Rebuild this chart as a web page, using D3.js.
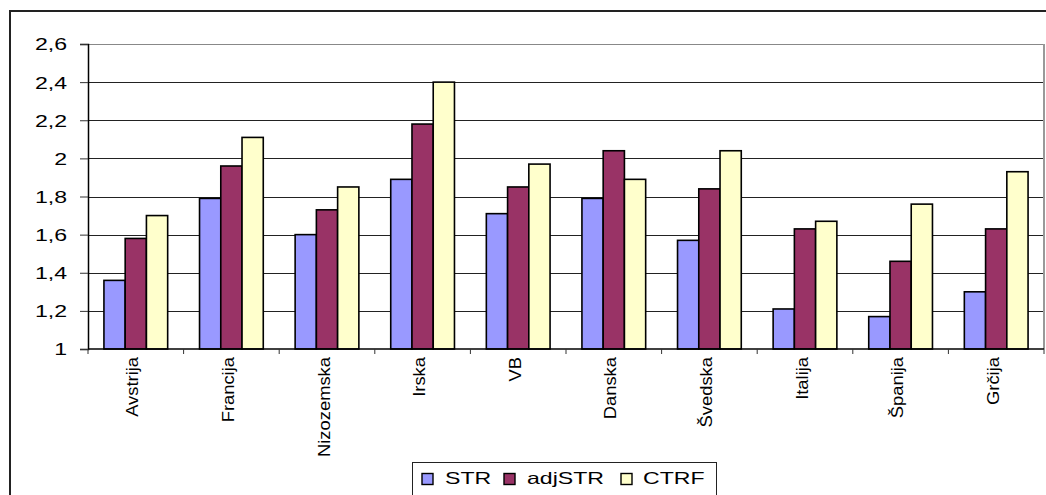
<!DOCTYPE html>
<html>
<head>
<meta charset="utf-8">
<script src="https://cdn.jsdelivr.net/npm/d3@7"></script>
<style>
  html, body { margin: 0; padding: 0; background: #fff; }
  svg { display: block; font-family: Arial, "Liberation Sans", sans-serif; }
</style>
</head>
<body>
<svg id="chart" width="1046" height="495"></svg>
<script>
// Country names along the x axis
const categories = ["Avstrija", "Francija", "Nizozemska", "Irska", "VB", "Danska", "Švedska", "Italija", "Španija", "Grčija"];

// Series values per country
const strValues    = [1.36, 1.79, 1.60, 1.89, 1.71, 1.79, 1.57, 1.21, 1.17, 1.30];
const adjStrValues = [1.58, 1.96, 1.73, 2.18, 1.85, 2.04, 1.84, 1.63, 1.46, 1.63];
const ctrfValues   = [1.70, 2.11, 1.85, 2.40, 1.97, 1.89, 2.04, 1.67, 1.76, 1.93];

const seriesNames = ["STR", "adjSTR", "CTRF"];
const seriesColors = ["#9999FF", "#993366", "#FFFFCC"];

// Value axis ticks and their printed labels (decimal comma)
const yTicks = [1, 1.2, 1.4, 1.6, 1.8, 2, 2.2, 2.4, 2.6];
const yTickLabels = ["1", "1,2", "1,4", "1,6", "1,8", "2", "2,2", "2,4", "2,6"];

const series = [strValues, adjStrValues, ctrfValues];
const rows = categories.map((c, i) => ({
  name: c,
  values: seriesNames.map((s, j) => ({ key: s, value: series[j][i], color: seriesColors[j] }))
}));

const svg = d3.select("#chart");

// Outer chart frame
svg.append("rect")
  .attr("x", 10).attr("y", 11)
  .attr("width", 1060).attr("height", 520)
  .attr("fill", "#fff")
  .attr("stroke", "#222").attr("stroke-width", 2);

const plot = { left: 88, right: 1044, top: 44, bottom: 349 };

const x0 = d3.scaleBand().domain(categories).range([plot.left, plot.right]).padding(0);
const bw = x0.bandwidth();
const x1 = d3.scaleBand().domain(seriesNames).range([bw / 6, bw * 5 / 6]).padding(0);
const y = d3.scaleLinear().domain([1, 2.6]).range([plot.bottom, plot.top]);

// Horizontal gridlines
svg.append("g").selectAll("line").data(yTicks.slice(1)).join("line")
  .attr("x1", plot.left).attr("x2", plot.right)
  .attr("y1", d => Math.round(y(d)) + 0.5).attr("y2", d => Math.round(y(d)) + 0.5)
  .attr("stroke", (d, i, a) => i === a.length - 1 ? "#888" : "#222")
  .attr("stroke-width", 1);

// Right edge of the plot area
svg.append("line")
  .attr("x1", plot.right).attr("x2", plot.right)
  .attr("y1", plot.top).attr("y2", plot.bottom)
  .attr("stroke", "#999").attr("stroke-width", 2);

// Bars
const groups = svg.append("g").selectAll("g").data(rows).join("g")
  .attr("transform", d => `translate(${x0(d.name)},0)`);
groups.selectAll("rect").data(d => d.values).join("rect")
  .attr("x", d => x1(d.key))
  .attr("width", x1.bandwidth())
  .attr("y", d => y(d.value))
  .attr("height", d => y(1) - y(d.value))
  .attr("fill", d => d.color)
  .attr("stroke", "#000").attr("stroke-width", 1.6);

// Y axis
const yAxis = d3.axisLeft(y)
  .tickValues(yTicks)
  .tickSize(8)
  .tickFormat((d, i) => yTickLabels[i]);
const gy = svg.append("g").attr("transform", `translate(${plot.left},0)`).call(yAxis);
gy.select(".domain").attr("stroke", "#000").attr("stroke-width", 1.5);
gy.selectAll(".tick line").attr("stroke", "#333");
gy.selectAll(".tick text").remove();
gy.selectAll(".tick").append("text")
  .attr("transform", "translate(-21,0) scale(1.4,1)")
  .attr("text-anchor", "end")
  .attr("dy", "0.36em")
  .attr("fill", "#000")
  .style("font-size", "16.5px")
  .text((d, i) => yTickLabels[i]);

// X axis with ticks at category boundaries
const gx = svg.append("g").attr("transform", `translate(0,${plot.bottom})`);
gx.append("line")
  .attr("x1", plot.left).attr("x2", plot.right)
  .attr("stroke", "#000").attr("stroke-width", 1.5);
gx.selectAll("line.tk").data(categories.concat(["end"])).join("line")
  .attr("class", "tk")
  .attr("x1", (d, i) => plot.left + i * bw).attr("x2", (d, i) => plot.left + i * bw)
  .attr("y1", 0).attr("y2", 5)
  .attr("stroke", "#333");
gx.selectAll("text").data(categories).join("text")
  .attr("transform", d => `translate(${x0(d) + bw / 2},8) rotate(-90) scale(1.08,1)`)
  .attr("text-anchor", "end")
  .attr("dy", "0.15em")
  .attr("fill", "#000")
  .style("font-size", "17px")
  .text(d => d);

// Legend
const legend = svg.append("g");
legend.append("rect")
  .attr("x", 412.5).attr("y", 462.5)
  .attr("width", 304).attr("height", 50)
  .attr("fill", "#fff").attr("stroke", "#222").attr("stroke-width", 1);
const legendX = [422, 504, 621];
const legendTextX = [445, 527, 643];
seriesNames.forEach((s, i) => {
  legend.append("rect")
    .attr("x", legendX[i]).attr("y", 473.5)
    .attr("width", 11).attr("height", 11)
    .attr("fill", seriesColors[i]).attr("stroke", "#000").attr("stroke-width", 1.4);
  legend.append("text")
    .attr("transform", `translate(${legendTextX[i]},483.5) scale(1.4,1)`)
    .attr("fill", "#000")
    .style("font-size", "16.5px")
    .text(s);
});
</script>
</body>
</html>
